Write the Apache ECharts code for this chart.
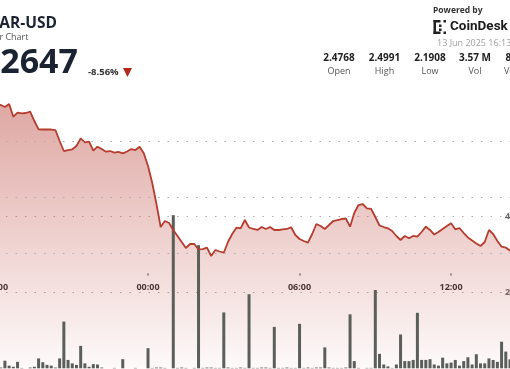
<!DOCTYPE html>
<html><head><meta charset="utf-8">
<script src="https://cdn.jsdelivr.net/npm/echarts@6/dist/echarts.min.js"></script>
<style>html,body{margin:0;padding:0;background:#fff}#c{width:510px;height:369px}</style>
</head><body><div id="c"></div>
<script>
// 10-minute buckets starting 18:00 (12 Jun) 
const times = [];
for (let m = 18 * 60; times.length < 123; m += 10) {
  const h = Math.floor(m / 60) % 24, mm = m % 60;
  times.push(String(h).padStart(2, '0') + ':' + String(mm).padStart(2, '0'));
}
const xTickLabels = ['18:00', '00:00', '06:00', '12:00'];

const prices = [
  2.4661, 2.4643, 2.4607, 2.4661, 2.4434, 2.4505, 2.4495, 2.4500, 2.4523, 2.4357,
  2.4209, 2.4205, 2.4209, 2.4205, 2.4196, 2.4000, 2.3821, 2.3839, 2.3852, 2.3911,
  2.4048, 2.3977, 2.3988, 2.3827, 2.3898, 2.3857, 2.3809, 2.3821, 2.3791, 2.3804,
  2.3780, 2.3813, 2.3857, 2.3839, 2.3898, 2.3780, 2.3554, 2.3250, 2.2875, 2.2464,
  2.2571, 2.2536, 2.2411, 2.2304, 2.2196, 2.2089, 2.2161, 2.2161, 2.2063, 2.2071,
  2.2095, 2.1946, 2.2054, 2.2027, 2.2005, 2.2196, 2.2339, 2.2452, 2.2441, 2.2589,
  2.2455, 2.2429, 2.2411, 2.2464, 2.2429, 2.2464, 2.2411, 2.2411, 2.2420, 2.2429,
  2.2459, 2.2321, 2.2250, 2.2214, 2.2184, 2.2339, 2.2518, 2.2482, 2.2429, 2.2500,
  2.2571, 2.2589, 2.2607, 2.2616, 2.2470, 2.2714, 2.2857, 2.2875, 2.2798, 2.2786,
  2.2643, 2.2491, 2.2464, 2.2441, 2.2393, 2.2304, 2.2232, 2.2304, 2.2263, 2.2304,
  2.2291, 2.2375, 2.2470, 2.2411, 2.2330, 2.2375, 2.2429, 2.2482, 2.2530, 2.2423,
  2.2446, 2.2357, 2.2277, 2.2223, 2.2170, 2.2125, 2.2196, 2.2411, 2.2339, 2.2214,
  2.2113, 2.2098, 2.2041
];

// volume in thousands
const volumes = [
  1, 2, 20, 7, 4, 17, 1, 0, 2, 4,
  26, 16, 9, 7, 2, 26, 123, 22, 13, 9,
  59, 13, 4, 11, 10, 2, 0, 0, 1, 0,
  24, 0, 0, 1, 0, 0, 53, 1, 2, 2,
  1, 0, 403, 1, 2, 1, 0, 1, 324, 1,
  2, 2, 1, 1, 147, 2, 1, 1, 2, 1,
  195, 1, 1, 2, 2, 1, 109, 1, 1, 2,
  1, 1, 117, 1, 2, 1, 2, 2, 55, 2,
  1, 1, 1, 2, 142, 19, 1, 0, 1, 1,
  206, 38, 10, 5, 1, 10, 89, 19, 19, 22,
  146, 22, 22, 24, 10, 7, 28, 13, 15, 22,
  7, 19, 29, 10, 37, 13, 13, 26, 22, 17,
  70, 44, 24
];

const priceGridLines = [2.2, 2.3, 2.4];
const volumeTickLabels = ['200K', '400K'];

const header = {
  pair: 'NEAR-USD', sub: '24 Hour Chart', price: '$2.2647', change: '-8.56%',
  powered: 'Powered by', brand: 'CoinDesk', stamp: '13 Jun 2025 16:13',
  statValues: ['2.4768', '2.4991', '2.1908', '3.57 M', '8.24 M'],
  statLabels: ['Open', 'High', 'Low', 'Vol', 'Vol USD']
};

const F = '"Open Sans", "Noto Sans", sans-serif';
const dotted = { type: [1.5, 8], color: '#adadad', width: 1 };
const showTick = (i, v) => xTickLabels.indexOf(v) >= 0;

const chart = echarts.init(document.getElementById('c'), null, { renderer: 'canvas' });
const statX = [339, 384.5, 430, 475];
const graphics = [
  { type: 'text', x: 57, y: 24, style: { text: header.pair, font: 'bold 15.5px ' + F, fill: '#1b2333', align: 'right', verticalAlign: 'middle' } },
  { type: 'text', x: 28.5, y: 37, style: { text: header.sub, font: '9px ' + F, fill: '#555', align: 'right', verticalAlign: 'middle' } },
  { type: 'text', x: 78, y: 63, style: { text: header.price, font: 'bold 34px ' + F, fill: '#1b2333', align: 'right', verticalAlign: 'middle' } },
  { type: 'text', x: 88, y: 72, style: { text: header.change, font: 'bold 9.5px ' + F, fill: '#333', align: 'left', verticalAlign: 'middle' } },
  { type: 'polygon', shape: { points: [[123, 68], [132, 68], [127.5, 77]] }, style: { fill: '#b3281c' } },
  { type: 'text', x: 433, y: 10.5, style: { text: header.powered, font: 'bold 8.5px ' + F, fill: '#333', align: 'left', verticalAlign: 'middle' } },
  { type: 'text', x: 450, y: 26.5, style: { text: header.brand, font: 'bold 13.5px Roboto, ' + F, fill: '#1b1b1b', align: 'left', verticalAlign: 'middle' } },
  { type: 'rect', shape: { x: 433.5, y: 20, width: 2.5, height: 14 }, style: { fill: '#222' } },
  { type: 'rect', shape: { x: 433.5, y: 20, width: 7, height: 2.5 }, style: { fill: '#222' } },
  { type: 'rect', shape: { x: 433.5, y: 31.5, width: 7, height: 2.5 }, style: { fill: '#222' } },
  { type: 'rect', shape: { x: 439, y: 24.5, width: 2.5, height: 2.5 }, style: { fill: '#222' } },
  { type: 'rect', shape: { x: 439, y: 28.5, width: 2.5, height: 2.5 }, style: { fill: '#222' } },
  { type: 'rect', shape: { x: 443.5, y: 20, width: 2.5, height: 2.5 }, style: { fill: '#222' } },
  { type: 'rect', shape: { x: 443.5, y: 31.5, width: 2.5, height: 2.5 }, style: { fill: '#222' } },
  { type: 'text', x: 437, y: 43.5, style: { text: header.stamp, font: '9px ' + F, fill: '#a0a0a0', align: 'left', verticalAlign: 'middle' } }
];
header.statValues.forEach((v, k) => {
  const last = k === 4;
  graphics.push({ type: 'text', x: last ? 505.5 : statX[k], y: 58, style: { text: v, font: 'bold 10px ' + F, fill: '#222', align: last ? 'left' : 'center', verticalAlign: 'middle' } });
  graphics.push({ type: 'text', x: last ? 504 : statX[k], y: 71.5, style: { text: header.statLabels[k], font: '9px ' + F, fill: '#555', align: last ? 'left' : 'center', verticalAlign: 'middle' } });
});

chart.setOption({
  animation: false,
  backgroundColor: '#fff',
  grid: [
    { left: -3.5, right: 0, top: 85, bottom: 0, containLabel: false, outerBoundsMode: 'none' },
    { left: -3.5, right: 0, top: 178.3, bottom: 0.7, containLabel: false, outerBoundsMode: 'none' }
  ],
  xAxis: [
    { type: 'category', gridIndex: 0, data: times, boundaryGap: false, show: false },
    {
      type: 'category', gridIndex: 1, data: times, boundaryGap: false, offset: -95.3,
      axisLine: { show: false },
      axisTick: { show: true, interval: showTick, length: 2, lineStyle: { color: '#999', width: 2 } },
      axisLabel: { interval: showTick, margin: 10, fontSize: 9, fontWeight: 'bold', color: '#333', fontFamily: F },
      splitLine: { show: false }
    }
  ],
  yAxis: [
    { type: 'value', gridIndex: 0, min: 1.99286, max: 2.5, show: false, splitLine: { show: false } },
    {
      type: 'value', gridIndex: 1, min: 0, max: 500, interval: 200, position: 'right', offset: -8,
      axisLine: { show: false }, axisTick: { show: false },
      axisLabel: {
        showMinLabel: false, showMaxLabel: false, margin: 3, fontSize: 9, fontWeight: 'bold', color: '#666', fontFamily: F,
        formatter: v => volumeTickLabels[v / 200 - 1] || ''
      },
      splitLine: { show: true, showMinLine: false, showMaxLine: false, lineStyle: dotted }
    }
  ],
  series: [
    {
      type: 'line', xAxisIndex: 0, yAxisIndex: 0, data: prices, showSymbol: false, z: 1,
      lineStyle: { width: 0, opacity: 0 },
      areaStyle: {
        color: new echarts.graphic.LinearGradient(0, 0, 0, 1, [
          { offset: 0, color: 'rgba(188,72,62,0.68)' },
          { offset: 1, color: 'rgba(188,72,62,0.04)' }
        ])
      },
      markLine: {
        silent: true, symbol: 'none', label: { show: false },
        lineStyle: dotted,
        data: priceGridLines.map(p => ({ yAxis: p }))
      }
    },
    {
      type: 'bar', xAxisIndex: 1, yAxisIndex: 1, data: volumes, barWidth: 3, z: 2,
      itemStyle: { color: '#5a5f5a' }
    },
    {
      type: 'line', xAxisIndex: 0, yAxisIndex: 0, data: prices, showSymbol: false, z: 3,
      lineStyle: { color: '#b63c2e', width: 1.8 }
    }
  ],
  graphic: graphics
});
</script>
</body></html>
